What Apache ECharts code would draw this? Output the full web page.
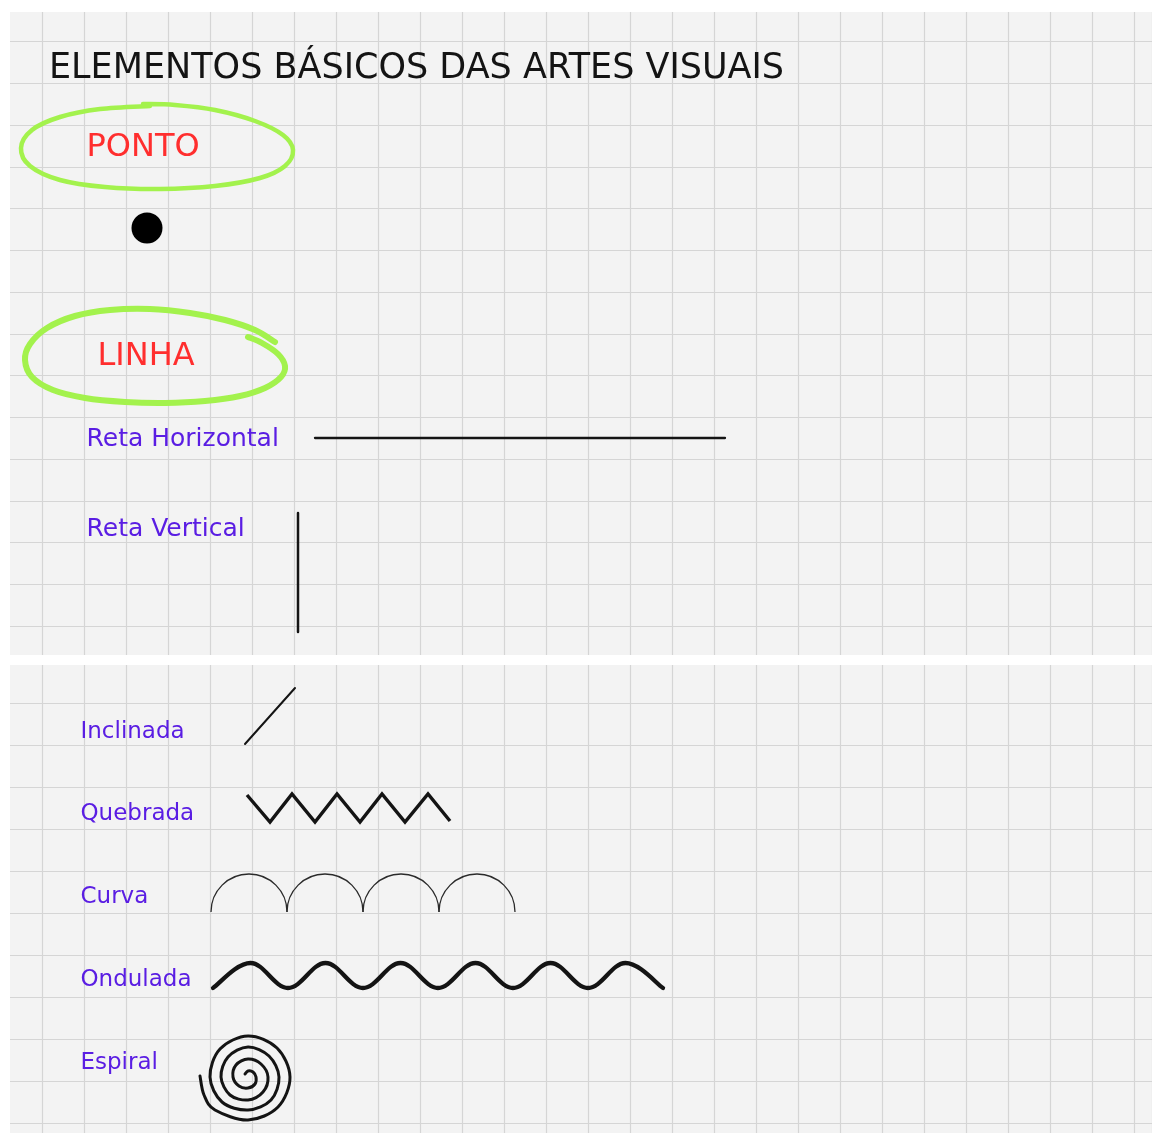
<!DOCTYPE html>
<html>
<head>
<meta charset="utf-8">
<script src="https://cdn.jsdelivr.net/npm/echarts@6/dist/echarts.min.js"></script>
<style>
  html, body { margin: 0; padding: 0; background: #ffffff; }
  #main { width: 1152px; height: 1135px; }
</style>
</head>
<body>
<div id="main"></div>
<script>
/* folha quadriculada: elementos basicos das artes visuais */
var titleText = 'ELEMENTOS BÁSICOS DAS ARTES VISUAIS';

// secoes (vermelho) e tipos de linha (roxo)
var sectionNames = ['PONTO', 'LINHA'];
var sectionAt = [[86, 148], [97, 357]];
var topTypeNames = ['Reta Horizontal', 'Reta Vertical'];
var topTypeAt = [[86, 439], [86, 529]];
var lowTypeNames = ['Inclinada', 'Quebrada', 'Curva', 'Ondulada', 'Espiral'];
var lowTypeAt = [[80, 732], [80, 814], [80, 897], [80, 980], [80, 1063]];

// ponto
var dotAt = [[147, 228]];

// contornos verdes feitos a mao
var pontoLoop = [[143, 104], [175, 105], [215, 110], [255, 121], [283, 135], [293, 150], [285, 166],
    [260, 178], [215, 186], [160, 189], [105, 187], [60, 180], [30, 166], [21, 148], [32, 130],
    [60, 117], [100, 109], [150, 106]];
var linhaLoop = [[275, 342], [255, 330], [225, 320], [190, 313], [150, 309], [110, 310], [75, 316],
    [47, 328], [30, 344], [25, 360], [32, 377], [53, 390], [85, 398], [125, 402], [165, 403],
    [205, 401], [240, 396], [265, 388], [281, 377], [285, 366], [278, 354], [262, 343], [248, 337]];

// linhas
var horizontalLine = [[315, 438], [725, 438]];
var verticalLine = [[298, 513], [298, 632]];
var inclinedLine = [[245, 744], [295, 688]];
var zigzag = [[247, 795], [270, 822], [292, 794], [315, 822], [337, 794], [360, 822], [382, 794],
    [405, 822], [428, 794], [450, 821]];
var curveFeet = [211, 287, 363, 439, 515];
var curveBase = 912;
var waveTurns = [[213, 988], [250.5, 963], [288, 988], [325.5, 963], [363, 988], [400.5, 963],
    [438, 988], [475.5, 963], [513, 988], [550.5, 963], [588, 988], [625.5, 963], [663, 988]];
var spiral = [[200, 1076], [204, 1095], [215, 1110], [248, 1120], [278, 1107], [290, 1077], [277, 1048],
    [248, 1036], [220, 1049], [210, 1077], [222, 1102], [248, 1110], [271, 1100], [279, 1077],
    [269, 1056], [248, 1047], [228, 1057], [221, 1077], [230, 1095], [248, 1100], [263, 1092],
    [268, 1077], [261, 1064], [248, 1059], [236, 1065], [233, 1077], [239, 1086], [248, 1088],
    [255, 1084], [256, 1077], [253, 1072], [248, 1071], [245, 1074]];

var FONT = "'DejaVu Sans', sans-serif";
var INK = '#141414';
var GREEN = '#a3f24d';
var RED = '#ff2e2e';
var PURPLE = '#5a1de3';
var PAPER = '#f3f3f3';
var GRIDLINE = '#d5d5d5';

function labelData(names, at) {
    return names.map(function (n, i) {
        return { name: n, value: at[i] };
    });
}
function arcPairs() {
    var out = [];
    for (var i = 0; i < curveFeet.length - 1; i++) {
        out.push([curveFeet[i], curveFeet[i + 1], curveBase]);
    }
    return out;
}

function paperX(idx) {
    return {
        gridIndex: idx, type: 'value', min: 0, max: 1152, interval: 42,
        axisLine: { show: false }, axisTick: { show: false }, axisLabel: { show: false },
        splitLine: { show: true, lineStyle: { color: GRIDLINE, width: 1.2 } }
    };
}
function paperY(idx, max) {
    return {
        gridIndex: idx, type: 'value', inverse: true, min: 0, max: max, interval: 42,
        axisLine: { show: false }, axisTick: { show: false }, axisLabel: { show: false },
        splitLine: { show: true, lineStyle: { color: GRIDLINE, width: 1.2 } }
    };
}
function lineSeries(data, color, width, join) {
    return {
        type: 'line', xAxisIndex: 2, yAxisIndex: 2, data: data,
        symbol: 'none', showSymbol: false, silent: true, z: 3,
        lineStyle: { color: color, width: width, cap: join === 'miter' ? 'butt' : 'round', join: join || 'round' }
    };
}
// catmull-rom pelos pontos ja convertidos em pixels
function smoothPath(pts, tension) {
    var d = 'M' + pts[0][0].toFixed(2) + ' ' + pts[0][1].toFixed(2);
    for (var i = 0; i < pts.length - 1; i++) {
        var p0 = pts[i - 1] || pts[i], p1 = pts[i], p2 = pts[i + 1], p3 = pts[i + 2] || pts[i + 1];
        var c1x = p1[0] + (p2[0] - p0[0]) * tension / 6, c1y = p1[1] + (p2[1] - p0[1]) * tension / 6;
        var c2x = p2[0] - (p3[0] - p1[0]) * tension / 6, c2y = p2[1] - (p3[1] - p1[1]) * tension / 6;
        d += ' C' + c1x.toFixed(2) + ' ' + c1y.toFixed(2) + ' ' + c2x.toFixed(2) + ' ' + c2y.toFixed(2) +
            ' ' + p2[0].toFixed(2) + ' ' + p2[1].toFixed(2);
    }
    return d;
}
function curveSeries(points, color, width, tension) {
    return {
        type: 'custom', xAxisIndex: 2, yAxisIndex: 2, data: points, silent: true, z: 3,
        renderItem: function (params, api) {
            if (params.dataIndex !== 0) return null;
            var pts = points.map(function (p) { return api.coord(p); });
            return {
                type: 'path',
                shape: { pathData: smoothPath(pts, tension) },
                style: { stroke: color, lineWidth: width, fill: null, lineCap: 'round', lineJoin: 'round' }
            };
        }
    };
}
function labelSeries(names, at, color, size) {
    return {
        type: 'scatter', xAxisIndex: 2, yAxisIndex: 2, symbolSize: 1, silent: true, z: 4,
        itemStyle: { color: 'transparent', opacity: 1 },
        data: labelData(names, at),
        label: {
            show: true, position: 'right', distance: 0, formatter: '{b}', opacity: 1,
            color: color, fontSize: size, fontFamily: FONT
        }
    };
}

var chart = echarts.init(document.getElementById('main'));

var option = {
    animation: false,
    backgroundColor: '#ffffff',
    title: {
        text: titleText, left: 49, top: 51, padding: 0,
        textStyle: { color: INK, fontSize: 35, fontWeight: 'normal', fontFamily: FONT }
    },
    grid: [
        { left: 0, top: -4, width: 1152, height: 660, show: true, backgroundColor: PAPER, borderWidth: 0 },
        { left: 0, top: 661.5, width: 1152, height: 473.5, show: true, backgroundColor: PAPER, borderWidth: 0 },
        { left: 0, top: 0, width: 1152, height: 1135 }
    ],
    xAxis: [
        paperX(0),
        paperX(1),
        { gridIndex: 2, type: 'value', min: 0, max: 1152, show: false }
    ],
    yAxis: [
        paperY(0, 660),
        paperY(1, 473.5),
        { gridIndex: 2, type: 'value', min: 0, max: 1135, inverse: true, show: false }
    ],
    // margens brancas entre as folhas
    graphic: [
        { type: 'rect', z: 1, shape: { x: 0, y: 0, width: 1152, height: 12 }, style: { fill: '#fff' } },
        { type: 'rect', z: 1, shape: { x: 0, y: 0, width: 10, height: 1135 }, style: { fill: '#fff' } },
        { type: 'rect', z: 1, shape: { x: 0, y: 655, width: 1152, height: 10 }, style: { fill: '#fff' } },
        { type: 'rect', z: 1, shape: { x: 0, y: 1133, width: 1152, height: 2 }, style: { fill: '#fff' } }
    ],
    series: [
        curveSeries(pontoLoop, GREEN, 4.5, 1),
        curveSeries(linhaLoop, GREEN, 6, 1),
        {
            type: 'scatter', xAxisIndex: 2, yAxisIndex: 2, data: dotAt, symbolSize: 31, silent: true, z: 3,
            itemStyle: { color: '#000', opacity: 1 }
        },
        lineSeries(horizontalLine, INK, 2.3),
        lineSeries(verticalLine, INK, 2.5),
        lineSeries(inclinedLine, INK, 2),
        lineSeries(zigzag, INK, 3.4, 'miter'),
        {
            type: 'custom', xAxisIndex: 2, yAxisIndex: 2, data: arcPairs(), silent: true, z: 3,
            renderItem: function (params, api) {
                var a = api.coord([api.value(0), api.value(2)]);
                var b = api.coord([api.value(1), api.value(2)]);
                return {
                    type: 'arc',
                    shape: { cx: (a[0] + b[0]) / 2, cy: a[1], r: (b[0] - a[0]) / 2,
                        startAngle: Math.PI, endAngle: Math.PI * 2, clockwise: true },
                    style: { stroke: '#2a2a2a', fill: null, lineWidth: 1.3 }
                };
            }
        },
        curveSeries(waveTurns, INK, 4.3, 1.1),
        curveSeries(spiral, INK, 3, 1),
        labelSeries(sectionNames, sectionAt, RED, 32),
        labelSeries(topTypeNames, topTypeAt, PURPLE, 25),
        labelSeries(lowTypeNames, lowTypeAt, PURPLE, 23)
    ]
};

chart.setOption(option);
</script>
</body>
</html>
